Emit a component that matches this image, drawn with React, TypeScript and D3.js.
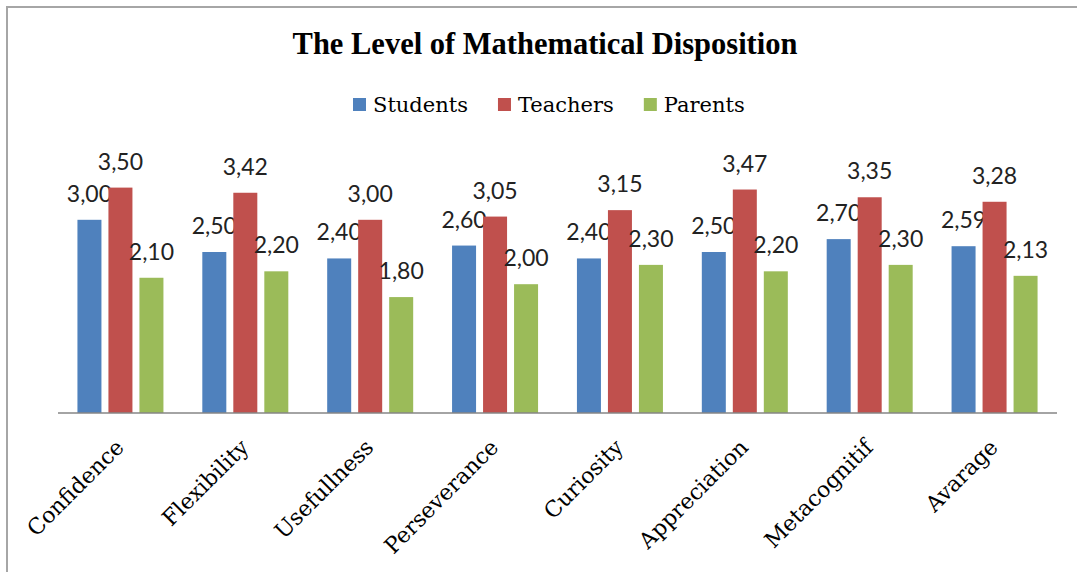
import React, { useEffect, useRef } from "react";
import * as d3 from "d3";

const categories = ["Confidence", "Flexibility", "Usefullness", "Perseverance", "Curiosity", "Appreciation", "Metacognitif", "Avarage"];
const seriesNames = ["Students", "Teachers", "Parents"];
const students = [3.0, 2.5, 2.4, 2.6, 2.4, 2.5, 2.7, 2.59];
const teachers = [3.5, 3.42, 3.0, 3.05, 3.15, 3.47, 3.35, 3.28];
const parents = [2.1, 2.2, 1.8, 2.0, 2.3, 2.2, 2.3, 2.13];
const seriesColors = ["#4F81BD", "#C0504D", "#9BBB59"];
const title = "The Level of Mathematical Disposition";

const W = 1077;
const H = 572;

export default function App() {
  const ref = useRef<SVGSVGElement | null>(null);

  useEffect(() => {
    const svg = d3.select(ref.current);
    svg.selectAll("*").remove();

    const values = [students, teachers, parents];
    const plot = { left: 58, right: 1057, bottom: 413, top: 155.4 };

    // border
    svg.append("rect")
      .attr("x", 7).attr("y", 7).attr("width", 1200).attr("height", 700)
      .attr("fill", "#fff").attr("stroke", "#a6a6a6").attr("stroke-width", 2);

    const x0 = d3.scaleBand<string>().domain(categories).range([plot.left, plot.right]).padding(0);
    const step = x0.bandwidth();
    const groupW = 86;
    const x1 = d3.scaleBand<string>().domain(seriesNames)
      .range([step / 2 - groupW / 2, step / 2 + groupW / 2])
      .paddingInner(7 / 31).paddingOuter(0);
    const y = d3.scaleLinear().domain([0, 4]).range([plot.bottom, plot.top]);

    // title
    svg.append("text")
      .attr("x", 545).attr("y", 54)
      .attr("text-anchor", "middle")
      .attr("font-family", "'Liberation Serif', serif")
      .attr("font-weight", "bold")
      .attr("font-size", 30.5)
      .attr("fill", "#000")
      .text(title);

    // legend
    const lg = svg.append("g");
    let lx = 353;
    seriesNames.forEach((name, i) => {
      lg.append("rect").attr("x", lx).attr("y", 98).attr("width", 13).attr("height", 13).attr("fill", seriesColors[i]);
      const t = lg.append("text")
        .attr("x", lx + 20).attr("y", 112)
        .attr("font-family", "'DejaVu Serif', serif")
        .attr("font-size", 21)
        .attr("fill", "#000")
        .text(name);
      const w = (t.node() as SVGTextElement).getComputedTextLength();
      lx = lx + 20 + w + 30;
    });

    // bars
    categories.forEach((c, ci) => {
      const g = svg.append("g").attr("transform", `translate(${x0(c)},0)`);
      seriesNames.forEach((s, si) => {
        const v = values[si][ci];
        g.append("rect")
          .attr("x", x1(s)!)
          .attr("y", y(v))
          .attr("width", x1.bandwidth())
          .attr("height", y(0) - y(v))
          .attr("fill", seriesColors[si]);
        g.append("text")
          .attr("x", x1(s)! + x1.bandwidth() / 2)
          .attr("y", y(v) - 18)
          .attr("text-anchor", "middle")
          .attr("font-family", "Lato, 'Liberation Sans', sans-serif")
          .attr("font-size", 23)
          .attr("fill", "#222")
          .text(d3.format(".2f")(v).replace(".", ","));
      });
    });

    // axis line
    svg.append("line")
      .attr("x1", plot.left).attr("x2", plot.right)
      .attr("y1", plot.bottom).attr("y2", plot.bottom)
      .attr("stroke", "#868686").attr("stroke-width", 1.5);

    // category labels
    categories.forEach((c) => {
      const cx = x0(c)! + step / 2;
      svg.append("text")
        .attr("transform", `translate(${cx - 7},${plot.bottom + 24}) rotate(-45)`)
        .attr("text-anchor", "end")
        .attr("dy", "0.75em")
        .attr("font-family", "'DejaVu Serif', serif")
        .attr("font-size", 22)
        .attr("fill", "#000")
        .text(c);
    });
  }, []);

  return (
    <svg ref={ref} width={W} height={H} style={{ position: "absolute", left: 0, top: 0, background: "#fff" }} />
  );
}
